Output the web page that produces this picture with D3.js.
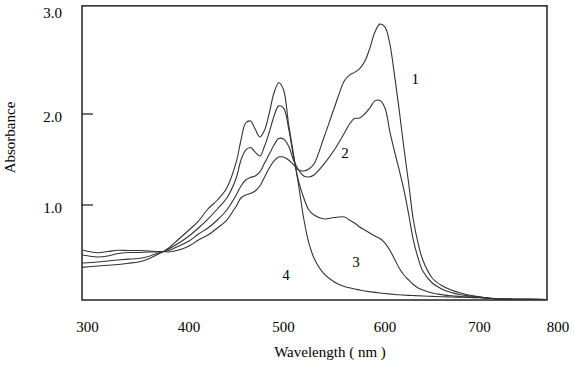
<!DOCTYPE html>
<html>
<head>
<meta charset="utf-8">
<script src="https://cdn.jsdelivr.net/npm/d3@7"></script>
<style>
    body { margin: 0; background: #fff; }
    svg text { font-family: 'Liberation Serif', 'Times New Roman', serif; fill: #000; }
</style>
</head>
<body>
<div id="chart"></div>
<script>
// wavelength grid (nm)
const wavelengths = [295, 310, 320, 330, 340, 350, 360, 370, 375, 380, 390, 400, 410, 420, 430, 440, 450, 455, 460, 465,
    470, 475, 480, 485, 490, 495, 500, 505, 510, 515, 520, 525, 530, 540, 550, 560, 565, 570, 575, 580,
    585, 590, 595, 600, 605, 610, 615, 620, 625, 630, 635, 640, 650, 660, 670, 680, 690, 700, 720, 750, 786];

const curve1 = [0.505, 0.475, 0.489, 0.502, 0.500, 0.500, 0.495, 0.489, 0.489, 0.484, 0.505, 0.549, 0.615, 0.670, 0.747, 0.835, 0.989, 1.077, 1.110, 1.126,
    1.154, 1.209, 1.308, 1.407, 1.484, 1.527, 1.527, 1.495, 1.440, 1.385, 1.374, 1.396, 1.451, 1.747, 2.058, 2.320, 2.374, 2.400, 2.437, 2.505,
    2.631, 2.786, 2.864, 2.835, 2.680, 2.379, 2.039, 1.626, 1.242, 0.835, 0.582, 0.396, 0.198, 0.115, 0.066, 0.033, 0.008, -0.010, -0.030, -0.036, -0.038];

const curve2 = [0.451, 0.429, 0.440, 0.467, 0.478, 0.478, 0.484, 0.484, 0.489, 0.500, 0.549, 0.604, 0.681, 0.747, 0.835, 0.945, 1.110, 1.209, 1.275, 1.302,
    1.319, 1.363, 1.462, 1.560, 1.659, 1.731, 1.725, 1.648, 1.490, 1.385, 1.319, 1.308, 1.330, 1.451, 1.604, 1.791, 1.890, 1.950, 1.956, 2.000,
    2.058, 2.126, 2.130, 2.058, 1.813, 1.593, 1.385, 1.165, 0.901, 0.615, 0.418, 0.275, 0.143, 0.077, 0.038, 0.014, 0.000, -0.012, -0.030, -0.036, -0.038];

const curve3 = [0.363, 0.374, 0.385, 0.396, 0.405, 0.412, 0.434, 0.473, 0.489, 0.516, 0.582, 0.659, 0.747, 0.846, 0.956, 1.077, 1.297, 1.495, 1.604, 1.632,
    1.582, 1.538, 1.648, 1.802, 1.978, 2.078, 2.058, 1.846, 1.520, 1.253, 1.077, 0.945, 0.890, 0.846, 0.863, 0.868, 0.835, 0.802, 0.758, 0.725,
    0.692, 0.659, 0.632, 0.582, 0.505, 0.407, 0.308, 0.231, 0.176, 0.126, 0.088, 0.066, 0.033, 0.015, 0.002, -0.005, -0.010, -0.015, -0.030, -0.036, -0.038];

const curve4 = [0.315, 0.330, 0.338, 0.346, 0.360, 0.374, 0.407, 0.462, 0.489, 0.527, 0.626, 0.725, 0.824, 0.956, 1.055, 1.187, 1.473, 1.714, 1.901, 1.923,
    1.835, 1.747, 1.824, 2.010, 2.204, 2.300, 2.233, 1.890, 1.549, 1.209, 0.846, 0.582, 0.418, 0.242, 0.154, 0.104, 0.090, 0.077, 0.066, 0.055,
    0.047, 0.040, 0.033, 0.027, 0.022, 0.017, 0.013, 0.010, 0.007, 0.005, 0.003, 0.000, -0.004, -0.008, -0.011, -0.014, -0.017, -0.020, -0.030, -0.036, -0.038];

const xTicks = [300, 400, 500, 600, 700, 800];
const yTicks = [1.0, 2.0, 3.0];
const yTickMarks = [1.0, 2.0];

const curveLabels = [
    { text: '1', nm: 632, a: 2.34 },
    { text: '2', nm: 560.6, a: 1.571 },
    { text: '3', nm: 571.4, a: 0.374 },
    { text: '4', nm: 502.5, a: 0.231 }
];

const frameX = [294.6, 786];
const frameY = [-0.044, 3.04];

const width = 574;
const height = 369;

const svg = d3.select('#chart')
    .append('svg')
    .attr('width', width)
    .attr('height', height);

// the printed axis is not quite uniform, so follow the tick labels piece by piece
const xScale = d3.scaleLinear()
    .domain([300, 400, 500, 600, 700, 800])
    .range([87.5, 189, 283.5, 385, 479.5, 558]);

const yScale = d3.scaleLinear()
    .domain([0, 1, 2, 3])
    .range([296, 205, 114, 10]);

// frame
svg.append('rect')
    .attr('x', xScale(frameX[0]))
    .attr('y', yScale(frameY[1]))
    .attr('width', xScale(frameX[1]) - xScale(frameX[0]))
    .attr('height', yScale(frameY[0]) - yScale(frameY[1]))
    .attr('fill', 'none')
    .attr('stroke', '#222')
    .attr('stroke-width', 1.5);

// inward ticks on the left side
svg.selectAll('.ytick')
    .data(yTickMarks)
    .enter().append('line')
    .attr('class', 'ytick')
    .attr('x1', xScale(frameX[0]))
    .attr('x2', xScale(frameX[0]) + 11)
    .attr('y1', d => yScale(d))
    .attr('y2', d => yScale(d))
    .attr('stroke', '#222')
    .attr('stroke-width', 1.3);

svg.selectAll('.ylabel')
    .data(yTicks)
    .enter().append('text')
    .attr('class', 'ylabel')
    .attr('x', 62)
    .attr('y', d => yScale(d) + 8)
    .attr('text-anchor', 'end')
    .style('font-size', '15px')
    .text(d => d.toFixed(1));

svg.selectAll('.xlabel')
    .data(xTicks)
    .enter().append('text')
    .attr('class', 'xlabel')
    .attr('x', d => xScale(d))
    .attr('y', 332)
    .attr('text-anchor', 'middle')
    .style('font-size', '15px')
    .text(d => d);

svg.append('text')
    .attr('x', 330)
    .attr('y', 357)
    .attr('text-anchor', 'middle')
    .style('font-size', '15px')
    .text('Wavelength ( nm )');

svg.append('text')
    .attr('transform', 'translate(15, 137.5) rotate(-90)')
    .attr('text-anchor', 'middle')
    .style('font-size', '15px')
    .text('Absorbance');

const line = d3.line()
    .x(d => xScale(d[0]))
    .y(d => yScale(d[1]))
    .curve(d3.curveCatmullRom.alpha(0.5));

[curve1, curve2, curve3, curve4].forEach(values => {
    svg.append('path')
        .datum(wavelengths.map((w, i) => [w, values[i]]))
        .attr('fill', 'none')
        .attr('stroke', '#333')
        .attr('stroke-width', 1.1)
        .attr('d', line);
});

svg.selectAll('.curve-label')
    .data(curveLabels)
    .enter().append('text')
    .attr('class', 'curve-label')
    .attr('x', d => xScale(d.nm))
    .attr('y', d => yScale(d.a) + 5)
    .attr('text-anchor', 'middle')
    .style('font-size', '15px')
    .text(d => d.text);
</script>
</body>
</html>
